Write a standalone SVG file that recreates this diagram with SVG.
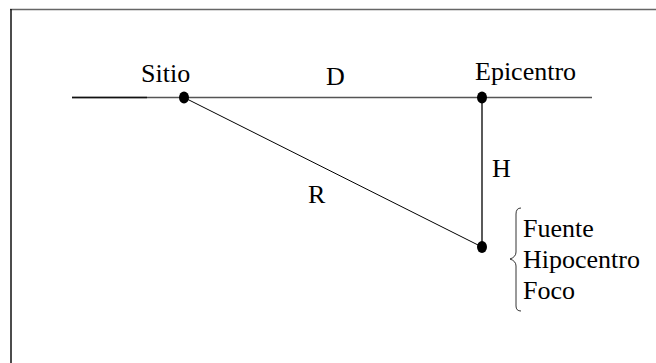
<svg xmlns="http://www.w3.org/2000/svg" width="656" height="363" viewBox="0 0 656 363">
  <defs>
    <ellipse id="dotshape" cx="0" cy="0" rx="5" ry="6" fill="#000"/>
  </defs>
  <rect width="656" height="363" fill="#fff"/>
  <g id="frame">
    <line x1="10" y1="9.5" x2="656" y2="9.5" stroke="#666" stroke-width="1.5"/>
    <line x1="11" y1="9" x2="11" y2="363" stroke="#111" stroke-width="1.5"/>
  </g>
  <g id="connectors">
    <line x1="72" y1="97.5" x2="592" y2="97.5" stroke="#555" stroke-width="1.5"/>
    <line x1="72" y1="97.5" x2="147" y2="97.5" stroke="#111" stroke-width="1.5"/>
    <line x1="184" y1="97.5" x2="482" y2="247" stroke="#000" stroke-width="1"/>
    <line x1="482" y1="97.5" x2="482" y2="247" stroke="#000" stroke-width="1.3"/>
    <path d="M521 208 Q516 208 516 214 L516 252 Q516 257 510 259 Q516 261 516 266 L516 306 Q516 311 521 311" fill="none" stroke="#000" stroke-width="0.8"/>
  </g>
  <g id="node-sitio">
    <use href="#dotshape" x="184" y="97.5"/>
    <text x="141" y="82" font-family="Times New Roman, Liberation Serif, Tinos, serif" font-size="26">Sitio</text>
  </g>
  <g id="node-epicentro">
    <use href="#dotshape" x="482" y="97.5"/>
    <text x="475" y="80" font-family="Times New Roman, Liberation Serif, Tinos, serif" font-size="26">Epicentro</text>
  </g>
  <g id="node-hipocentro">
    <use href="#dotshape" x="482" y="247"/>
    <text x="523" y="237" font-family="Times New Roman, Liberation Serif, Tinos, serif" font-size="26">Fuente</text>
    <text x="523" y="268" font-family="Times New Roman, Liberation Serif, Tinos, serif" font-size="26">Hipocentro</text>
    <text x="523" y="299" font-family="Times New Roman, Liberation Serif, Tinos, serif" font-size="26">Foco</text>
  </g>
  <g id="edge-labels">
    <text x="326" y="85" font-family="Times New Roman, Liberation Serif, Tinos, serif" font-size="26">D</text>
    <text x="492" y="177" font-family="Times New Roman, Liberation Serif, Tinos, serif" font-size="26">H</text>
    <text x="308" y="203" font-family="Times New Roman, Liberation Serif, Tinos, serif" font-size="26">R</text>
  </g>
</svg>
